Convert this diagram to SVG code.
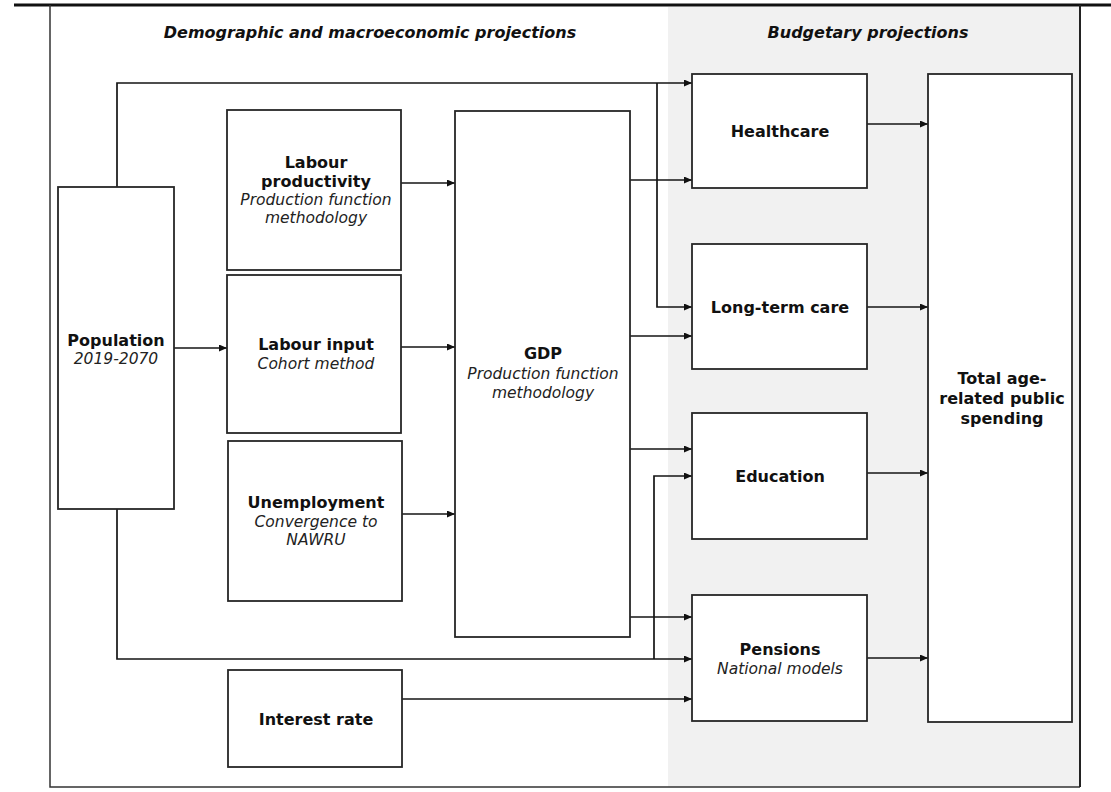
<svg xmlns="http://www.w3.org/2000/svg" width="1111" height="792" viewBox="0 0 1111 792">
<style>
  .bg { fill: #ffffff; }
  .panel { fill: #f1f1f1; stroke: none; }
  .frame { fill: none; stroke: #333; stroke-width: 1.5; }
  .box { fill: #ffffff; stroke: #262626; stroke-width: 1.8; }
  .conn { fill: none; stroke: #151515; stroke-width: 1.7; }
  .head { font-family: "DejaVu Sans", Verdana, sans-serif; font-size: 16px; font-weight: bold; font-style: italic; fill: #111; text-anchor: middle; }
  .b { font-family: "DejaVu Sans", Verdana, sans-serif; font-size: 16px; font-weight: bold; fill: #111; text-anchor: middle; }
  .i { font-family: "DejaVu Sans", Verdana, sans-serif; font-size: 15.5px; font-style: italic; fill: #222; text-anchor: middle; }
</style>
<defs>
  <marker id="arr" viewBox="0 0 10 10" refX="10" refY="5" markerWidth="8" markerHeight="7" markerUnits="userSpaceOnUse" orient="auto" preserveAspectRatio="none">
    <path d="M0,0 L10,5 L0,10 z" fill="#111"/>
  </marker>
</defs>
<rect class="bg" x="0" y="0" width="1111" height="792"/>
<g id="background">
  <rect class="panel" x="668" y="7" width="412" height="780"/>
  <line x1="14" y1="5" x2="1111" y2="5" stroke="#111" stroke-width="3"/>
  <polyline class="frame" points="50,5 50,787 1080,787"/>
  <line x1="1080" y1="5" x2="1080" y2="787" stroke="#222" stroke-width="2"/>
  <text class="head" x="370" y="38">Demographic and macroeconomic projections</text>
  <text class="head" x="868" y="38">Budgetary projections</text>
</g>
<g id="connectors">
  <polyline class="conn" points="117,187 117,83 692,83" marker-end="url(#arr)"/>
  <polyline class="conn" points="657,83 657,307 692,307" marker-end="url(#arr)"/>
  <line class="conn" x1="401" y1="183" x2="455" y2="183" stroke-width="2.2" marker-end="url(#arr)"/>
  <line class="conn" x1="401" y1="347" x2="455" y2="347" marker-end="url(#arr)"/>
  <line class="conn" x1="401" y1="514" x2="455" y2="514" marker-end="url(#arr)"/>
  <line class="conn" x1="174" y1="348" x2="227" y2="348" marker-end="url(#arr)"/>
  <line class="conn" x1="630" y1="180" x2="692" y2="180" marker-end="url(#arr)"/>
  <line class="conn" x1="630" y1="336" x2="692" y2="336" marker-end="url(#arr)"/>
  <line class="conn" x1="630" y1="449" x2="692" y2="449" marker-end="url(#arr)"/>
  <line class="conn" x1="630" y1="617" x2="692" y2="617" marker-end="url(#arr)"/>
  <polyline class="conn" points="117,509 117,659 692,659" stroke-width="2.2" marker-end="url(#arr)"/>
  <polyline class="conn" points="654,659 654,476 692,476" marker-end="url(#arr)"/>
  <line class="conn" x1="402" y1="699" x2="692" y2="699" marker-end="url(#arr)"/>
  <line class="conn" x1="867" y1="124" x2="928" y2="124" marker-end="url(#arr)"/>
  <line class="conn" x1="867" y1="307" x2="928" y2="307" marker-end="url(#arr)"/>
  <line class="conn" x1="867" y1="473" x2="928" y2="473" marker-end="url(#arr)"/>
  <line class="conn" x1="867" y1="658" x2="928" y2="658" marker-end="url(#arr)"/>
</g>
<g id="population">
  <rect class="box" x="58" y="187" width="116" height="322"/>
  <text class="b" x="116" y="346">Population</text>
  <text class="i" x="116" y="364">2019-2070</text>
</g>
<g id="labour-productivity">
  <rect class="box" x="227" y="110" width="174" height="160"/>
  <text class="b" x="316" y="168">Labour</text>
  <text class="b" x="316" y="187">productivity</text>
  <text class="i" x="316" y="205">Production function</text>
  <text class="i" x="316" y="223">methodology</text>
</g>
<g id="labour-input">
  <rect class="box" x="227" y="275" width="174" height="158"/>
  <text class="b" x="316" y="350">Labour input</text>
  <text class="i" x="316" y="369">Cohort method</text>
</g>
<g id="unemployment">
  <rect class="box" x="228" y="441" width="174" height="160"/>
  <text class="b" x="316" y="508">Unemployment</text>
  <text class="i" x="316" y="527">Convergence to</text>
  <text class="i" x="316" y="545">NAWRU</text>
</g>
<g id="interest-rate">
  <rect class="box" x="228" y="670" width="174" height="97"/>
  <text class="b" x="316" y="725">Interest rate</text>
</g>
<g id="gdp">
  <rect class="box" x="455" y="111" width="175" height="526"/>
  <text class="b" x="543" y="359">GDP</text>
  <text class="i" x="543" y="379">Production function</text>
  <text class="i" x="543" y="398">methodology</text>
</g>
<g id="healthcare">
  <rect class="box" x="692" y="74" width="175" height="114"/>
  <text class="b" x="780" y="137">Healthcare</text>
</g>
<g id="long-term-care">
  <rect class="box" x="692" y="244" width="175" height="125"/>
  <text class="b" x="780" y="313">Long-term care</text>
</g>
<g id="education">
  <rect class="box" x="692" y="413" width="175" height="126"/>
  <text class="b" x="780" y="482">Education</text>
</g>
<g id="pensions">
  <rect class="box" x="692" y="595" width="175" height="126"/>
  <text class="b" x="780" y="655">Pensions</text>
  <text class="i" x="780" y="674">National models</text>
</g>
<g id="total">
  <rect class="box" x="928" y="74" width="144" height="648"/>
  <text class="b" x="1002" y="384">Total age-</text>
  <text class="b" x="1002" y="404">related public</text>
  <text class="b" x="1002" y="424">spending</text>
</g>
</svg>
